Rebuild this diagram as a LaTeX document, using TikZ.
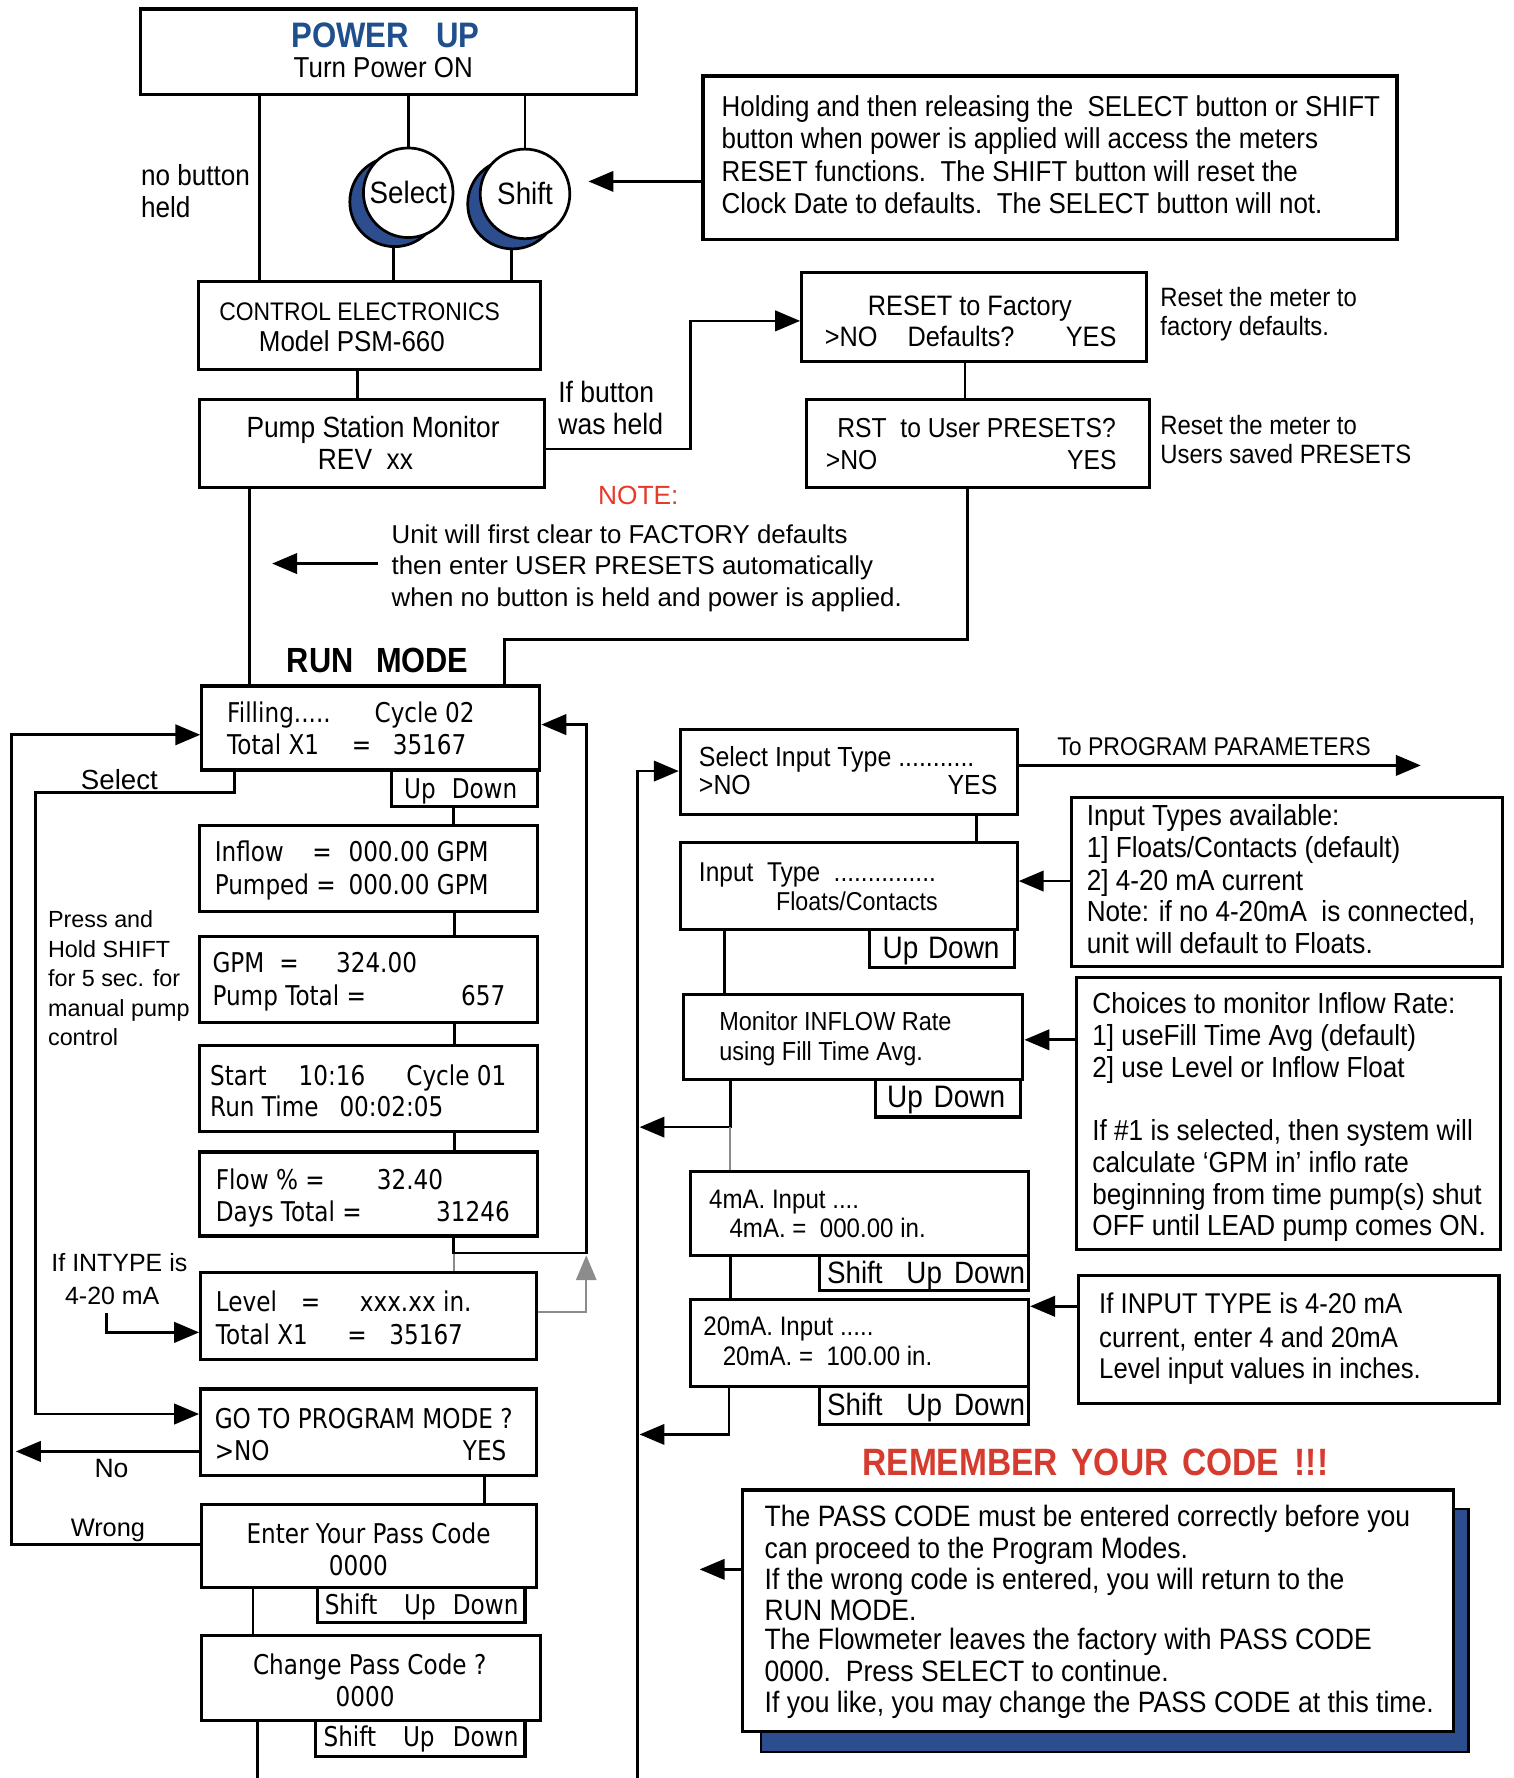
\documentclass[tikz,border=0pt]{standalone}
\usepackage{fontspec}
\usetikzlibrary{arrows.meta,fit}
\setmainfont{Liberation Sans}
\newfontfamily\fN[FakeStretch=0.9]{Liberation Sans}
\newfontfamily\fW[FakeStretch=0.85]{DejaVu Sans}
\newfontfamily\fA{Liberation Sans}
\newfontfamily\fB[FakeStretch=0.88]{Liberation Sans}
\newcommand\fs[1]{\fontsize{#1}{#1}\selectfont}
\definecolor{pblue}{HTML}{1F4F8C}
\definecolor{sblue}{HTML}{2C4E8E}
\definecolor{nred}{HTML}{E63A2C}
\definecolor{rred}{HTML}{D63B2F}
\definecolor{lgray}{HTML}{8C8C8C}
\tikzset{
  boxs/.style={draw, line width=1.4pt, inner sep=0pt, fill=white},
  ln/.style={line width=1.2pt},
  arr/.style={line width=1.2pt, -{Triangle[length=11pt,width=9pt]}},
  gl/.style={line width=0.9pt, draw=lgray},
  garr/.style={line width=0.9pt, draw=lgray, -{Triangle[length=11pt,width=9pt]}},
  tx/.style={inner sep=0pt, anchor=base west},
  txc/.style={inner sep=0pt, anchor=base},
  txr/.style={inner sep=0pt, anchor=base east},
  lcd/.style={font=\fW\fs{12}},
  nar/.style={font=\fN\fs{12.7}},
  btn/.style={circle, draw, line width=1.2pt, minimum size=39.5pt, inner sep=0pt},
}
\begin{document}
\begin{tikzpicture}[x=0.5pt,y=-0.5pt]
\useasboundingbox (0,0) rectangle (1335,1568);

% ---------- top section ----------
\node[boxs, fit={(124,8) (561,83)}] (npower) {};
\node[txc, text=pblue] (tpw) at (340,42) {\fB\bfseries\fs{15.6}POWER\hspace{12pt}UP};
\node[txc] (tton) at (338,68) {\fN\fs{12.7}Turn Power ON};

\node[btn, fill=sblue] (nselsh) at (348,178) {};
\node[btn, fill=white] (nsel) at (360,170) {\fN\fs{13.6}Select};
\node[btn, fill=sblue] (nshfsh) at (452,180) {};
\node[btn, fill=white] (nshf) at (463,171) {\fN\fs{13.6}Shift};

\node[tx] (tnb1) at (124,164) {\fN\fs{12.8}no button};
\node[tx] (tnb2) at (124,192) {\fN\fs{12.8}held};

\node[boxs, fit={(175,248) (477,326)}] (nctrl) {};
\node[tx] (tce1) at (193,283) {\fN\fs{11.2}CONTROL ELECTRONICS};
\node[tx] (tce2) at (228,310) {\fN\fs{12.7}Model PSM-660};

\node[boxs, fit={(176,352) (480,430)}] (npump) {};
\node[tx] (tps1) at (217,386) {\fN\fs{12.9}Pump Station Monitor};
\node[tx] (tps2) at (280,414) {\fN\fs{12.9}REV\ \ xx};

\node[tx] (tib1) at (492,355) {\fN\fs{13}If button};
\node[tx] (tib2) at (492,383) {\fN\fs{13}was held};

\node[boxs, fit={(620,67) (1232,211)}] (nhold) {};
\node[tx, nar] (th1) at (636,103) {Holding and then releasing the\ \ SELECT button or SHIFT};
\node[tx, nar] (th2) at (636,131) {button when power is applied will access the meters};
\node[tx, nar] (th3) at (636,160) {RESET functions.\ \ The SHIFT button will reset the};
\node[tx, nar] (th4) at (636,188) {Clock Date to defaults.\ \ The SELECT button will not.};

\node[boxs, fit={(707,240) (1011,319)}] (nreset) {};
\node[tx] (tr1) at (765,278) {\fN\fs{12.4}RESET to Factory};
\node[tx] (tr2) at (727,306) {\fN\fs{12.4}>NO};
\node[tx] (tr3) at (800,306) {\fN\fs{12.4}Defaults?};
\node[txr] (tr4) at (985,306) {\fN\fs{12.4}YES};

\node[boxs, fit={(711,352) (1014,430)}] (nrst) {};
\node[tx] (ts1) at (738,386) {\fN\fs{12.1}RST\ \ to User PRESETS?};
\node[tx] (ts2) at (728,414) {\fN\fs{12.1}>NO};
\node[txr] (ts3) at (985,414) {\fN\fs{12.1}YES};

\node[tx] (tm1) at (1023,270) {\fN\fs{11.7}Reset the meter to};
\node[tx] (tm2) at (1023,296) {\fN\fs{11.7}factory\ defaults.};
\node[tx] (tm3) at (1023,383) {\fN\fs{11.7}Reset the meter to};
\node[tx] (tm4) at (1023,409) {\fN\fs{11.7}Users saved PRESETS};

\node[tx, text=nred] (tnote) at (527,445) {\fA\fs{11.6}NOTE:};
\node[tx] (tu1) at (345,479) {\fA\fs{11.4}Unit will first clear to FACTORY defaults};
\node[tx] (tu2) at (345,507) {\fA\fs{11.4}then enter USER PRESETS automatically};
\node[tx] (tu3) at (345,535) {\fA\fs{11.4}when no button is held and power is applied.};

\node[txc] (trun) at (333,593) {\fB\bfseries\fs{15.4}RUN\hspace{10pt}MODE};

% ---------- left column ----------
\node[boxs, fit={(178,605) (476,679)}] (nfill) {};
\node[tx, lcd] (tf1) at (200,637) {Filling.....};
\node[tx, lcd] (tf2) at (330,637) {Cycle 02};
\node[tx, lcd] (tf3) at (200,665) {Total X1};
\node[tx, lcd] (tf4) at (310,665) {=};
\node[tx, lcd] (tf5) at (346,665) {35167};
\node[boxs, fit={(345,679) (474,711)}] (nud1) {};
\node[tx, lcd] (tu1a) at (356,704) {Up};
\node[tx, lcd] (tu1b) at (398,704) {Down};

\node[boxs, fit={(176,728) (474,804)}] (ninflow) {};
\node[tx, lcd] (ti1) at (189,760) {Inflow};
\node[tx, lcd] (ti2) at (275,760) {=};
\node[tx, lcd] (ti3) at (307,760) {000.00 GPM};
\node[tx, lcd] (ti4) at (189,789) {Pumped =};
\node[tx, lcd] (ti5) at (307,789) {000.00 GPM};

\node[boxs, fit={(176,826) (474,902)}] (ngpm) {};
\node[tx, lcd] (tg1) at (187,858) {GPM};
\node[tx, lcd] (tg2) at (246,858) {=};
\node[tx, lcd] (tg3) at (296,858) {324.00};
\node[tx, lcd] (tg4) at (187,887) {Pump Total =};
\node[txr, lcd] (tg5) at (446,887) {657};

\node[boxs, fit={(176,922) (474,998)}] (nstart) {};
\node[tx, lcd] (tst1) at (185,957) {Start};
\node[tx, lcd] (tst2) at (263,957) {10:16};
\node[tx, lcd] (tst3) at (358,957) {Cycle 01};
\node[tx, lcd] (tst4) at (185,985) {Run Time};
\node[tx, lcd] (tst5) at (299,985) {00:02:05};

\node[boxs, fit={(176,1016) (474,1090)}] (nflow) {};
\node[tx, lcd] (tfl1) at (190,1049) {Flow \% =};
\node[tx, lcd] (tfl2) at (332,1049) {32.40};
\node[tx, lcd] (tfl3) at (190,1077) {Days Total =};
\node[txr, lcd] (tfl4) at (450,1077) {31246};

\node[boxs, fit={(177,1122) (473,1199)}] (nlevel) {};
\node[tx, lcd] (tl1) at (190,1157) {Level};
\node[tx, lcd] (tl2) at (265,1157) {=};
\node[tx, lcd] (tl3) at (317,1157) {xxx.xx in.};
\node[tx, lcd] (tl4) at (190,1186) {Total X1};
\node[tx, lcd] (tl5) at (306,1186) {=};
\node[tx, lcd] (tl6) at (343,1186) {35167};

\node[boxs, fit={(177,1225) (473,1301)}] (ngoto) {};
\node[tx, lcd] (tgo1) at (189,1260) {GO TO PROGRAM MODE ?};
\node[tx, lcd] (tgo2) at (189,1288) {>NO};
\node[txr, lcd] (tgo3) at (447,1288) {YES};

\node[boxs, fit={(178,1327) (473,1400)}] (nenter) {};
\node[txc, lcd] (te1) at (325,1361) {Enter Your Pass Code};
\node[txc, lcd] (te2) at (316,1389) {0000};
\node[boxs, fit={(280,1400) (463,1431)}] (nud2) {};
\node[tx, lcd] (tu2a) at (286,1424) {Shift};
\node[tx, lcd] (tu2b) at (356,1424) {Up};
\node[tx, lcd] (tu2c) at (399,1424) {Down};

\node[boxs, fit={(178,1442) (477,1517)}] (nchange) {};
\node[txc, lcd] (tc1) at (326,1477) {Change Pass Code ?};
\node[txc, lcd] (tc2) at (322,1505) {0000};
\node[boxs, fit={(278,1517) (463,1549)}] (nud3) {};
\node[tx, lcd] (tu3a) at (285,1540) {Shift};
\node[tx, lcd] (tu3b) at (355,1540) {Up};
\node[tx, lcd] (tu3c) at (399,1540) {Down};

\node[tx] (tpr1) at (42,818) {\fA\fs{10.3}Press and};
\node[tx] (tpr2) at (42,844) {\fA\fs{10.3}Hold SHIFT};
\node[tx] (tpr3) at (42,870) {\fA\fs{10.3}for 5 sec. for};
\node[tx] (tpr4) at (42,896) {\fA\fs{10.3}manual pump};
\node[tx] (tpr5) at (42,922) {\fA\fs{10.3}control};
\node[tx] (tsel) at (71,696) {\fA\fs{12.2}Select};
\node[tx] (tin1) at (45,1121) {\fA\fs{11}If INTYPE is};
\node[tx] (tin2) at (57,1150) {\fA\fs{11}4-20 mA};
\node[tx] (tno) at (83,1303) {\fA\fs{11.7}No};
\node[tx] (twr) at (62,1355) {\fA\fs{11.2}Wrong};

% ---------- right column ----------
\node[boxs, fit={(600,643) (897,718)}] (nsit) {};
\node[tx] (tsi1) at (616,676) {\fN\fs{12.2}Select Input Type ...........};
\node[tx] (tsi2) at (616,701) {\fN\fs{12.2}>NO};
\node[txr] (tsi3) at (880,701) {\fN\fs{12.2}YES};
\node[tx] (tpp) at (932,666) {\fN\fs{11.3}To PROGRAM PARAMETERS};

\node[boxs, fit={(600,743) (897,820)}] (nitype) {};
\node[tx] (tit1) at (616,777) {\fN\fs{12}Input\ \ Type\ \ ...............};
\node[tx] (tit2) at (684,803) {\fN\fs{11.4}Floats/Contacts};
\node[boxs, fit={(767,820) (895,853)}] (nud4) {};
\node[tx] (tu4a) at (778,845) {\fN\fs{13.7}Up};
\node[tx] (tu4b) at (818,845) {\fN\fs{13.7}Down};

\node[boxs, fit={(603,877) (902,952)}] (nmon) {};
\node[tx] (tmo1) at (634,909) {\fN\fs{11.5}Monitor INFLOW Rate};
\node[tx] (tmo2) at (634,935) {\fN\fs{11.5}using Fill Time Avg.};
\node[boxs, fit={(772,952) (900,985)}] (nud5) {};
\node[tx] (tu5a) at (782,977) {\fN\fs{13.7}Up};
\node[tx] (tu5b) at (823,977) {\fN\fs{13.7}Down};

\node[boxs, fit={(609,1033) (907,1107)}] (nma4) {};
\node[tx] (ta41) at (625,1066) {\fN\fs{11.8}4mA. Input ....};
\node[tx] (ta42) at (643,1091) {\fN\fs{11.8}4mA. =\ \ 000.00 in.};
\node[boxs, fit={(723,1107) (907,1138)}] (nud6) {};
\node[tx] (tu6a) at (729,1132) {\fN\fs{13.6}Shift};
\node[tx] (tu6b) at (799,1132) {\fN\fs{13.6}Up};
\node[tx] (tu6c) at (841,1132) {\fN\fs{13.6}Down};

\node[boxs, fit={(609,1146) (907,1223)}] (nma20) {};
\node[tx] (ta21) at (620,1178) {\fN\fs{11.8}20mA. Input .....};
\node[tx] (ta22) at (637,1204) {\fN\fs{11.8}20mA. =\ \ 100.00 in.};
\node[boxs, fit={(723,1223) (907,1256)}] (nud7) {};
\node[tx] (tu7a) at (729,1248) {\fN\fs{13.6}Shift};
\node[tx] (tu7b) at (799,1248) {\fN\fs{13.6}Up};
\node[tx] (tu7c) at (841,1248) {\fN\fs{13.6}Down};

\node[boxs, fit={(945,703) (1325,852)}] (navail) {};
\node[tx] (tav1) at (958,728) {\fN\fs{12.8}Input Types available:};
\node[tx] (tav2) at (958,756) {\fN\fs{12.8}1] Floats/Contacts (default)};
\node[tx] (tav3) at (958,785) {\fN\fs{12.8}2] 4-20 mA current};
\node[tx] (tav4) at (958,813) {\fN\fs{12.8}Note: if no 4-20mA\ \ is connected,};
\node[tx] (tav5) at (958,841) {\fN\fs{12.8}unit will default to Floats.};

\node[boxs, fit={(949,862) (1323,1102)}] (nchoice) {};
\node[tx] (tch1) at (963,894) {\fN\fs{12.8}Choices to monitor Inflow Rate:};
\node[tx] (tch2) at (963,922) {\fN\fs{12.8}1] useFill Time Avg (default)};
\node[tx] (tch3) at (963,950) {\fN\fs{12.8}2] use Level or Inflow Float};
\node[tx] (tch4) at (963,1006) {\fN\fs{12.8}If \#1 is selected, then system will};
\node[tx] (tch5) at (963,1034) {\fN\fs{12.8}calculate ‘GPM in’ inflo rate};
\node[tx] (tch6) at (963,1062) {\fN\fs{12.8}beginning from time pump(s) shut};
\node[tx] (tch7) at (963,1090) {\fN\fs{12.8}OFF until LEAD pump comes ON.};

\node[boxs, fit={(951,1125) (1322,1238)}] (nifin) {};
\node[tx] (tif1) at (969,1158) {\fN\fs{12.6}If INPUT TYPE is 4-20 mA};
\node[tx] (tif2) at (969,1188) {\fN\fs{12.6}current, enter 4 and 20mA};
\node[tx] (tif3) at (969,1216) {\fN\fs{12.6}Level input values in inches.};

\node[txc, text=rred] (trem) at (966,1301) {\fB\bfseries\fs{16.8}REMEMBER\hspace{6pt}YOUR\hspace{6pt}CODE\hspace{7pt}!!!};

\node[draw=black, line width=1pt, fill=sblue, inner sep=0pt, fit={(671,1331) (1295,1545)}] (npsh) {};
\node[boxs, fit={(655,1314) (1282,1527)}] (npass) {};
\node[tx] (tpa1) at (674,1346) {\fN\fs{13}The PASS CODE must be entered correctly before you};
\node[tx] (tpa2) at (674,1374) {\fN\fs{13}can proceed to the Program Modes.};
\node[tx] (tpa3) at (674,1402) {\fN\fs{13}If the wrong code is entered, you will return to the};
\node[tx] (tpa4) at (674,1429) {\fN\fs{13}RUN MODE.};
\node[tx] (tpa5) at (674,1455) {\fN\fs{13}The Flowmeter leaves the factory with PASS CODE};
\node[tx] (tpa6) at (674,1483) {\fN\fs{13}0000.\ \ Press SELECT to continue.};
\node[tx] (tpa7) at (674,1510) {\fN\fs{13}If you like, you may change the PASS CODE at this time.};

% ---------- free ends ----------
\coordinate (cA) at (519,160);
\coordinate (cB) at (333,497);
\coordinate (cC) at (240,497);
\coordinate (cD) at (94,1158);
\coordinate (cE) at (14,1280);
\coordinate (cF) at (227,1568);
\coordinate (cG) at (562,1568);
\coordinate (cH) at (1253,675);
\coordinate (cI) at (617,1384);
\coordinate (cJ) at (564,994);
\coordinate (cK) at (564,1265);

% ---------- connectors ----------
\draw[ln] (229,0 |- npower.south) -- (229,0 |- nctrl.north);
\draw[ln] (npower.south -| nsel.north) -- (nsel.north);
\draw[ln] (npower.south -| nshf.north) -- (nshf.north);
\draw[ln] (347,0 |- nselsh.south) -- (347,0 |- nctrl.north);
\draw[ln] (451,0 |- nshfsh.south) -- (451,0 |- nctrl.north);
\draw[arr] (nhold.west |- 0,160) -- (cA);
\draw[ln] (315,0 |- nctrl.south) -- (315,0 |- npump.north);
\draw[arr] (npump.east |- 0,396) -| (609,283) -- (nreset.west |- 0,283);
\draw[ln] (851,0 |- nreset.south) -- (851,0 |- nrst.north);
\draw[ln] (853,0 |- nrst.south) |- (445,564) -- (445,0 |- nfill.north);
\draw[ln] (220,0 |- npump.south) -- (220,0 |- nfill.north);
\draw[arr] (cB) -- (cC);

\draw[ln] (400,0 |- nud1.south) -- (400,0 |- ninflow.north);
\draw[ln] (401,0 |- ninflow.south) -- (401,0 |- ngpm.north);
\draw[ln] (401,0 |- ngpm.south) -- (401,0 |- nstart.north);
\draw[ln] (401,0 |- nstart.south) -- (401,0 |- nflow.north);
\draw[arr] (400,0 |- nflow.south) |- (517,1105) |- (nfill.east |- 0,639);
\draw[gl] (400,1106) -- (400,0 |- nlevel.north);
\draw[garr] (nlevel.east |- 0,1157) -| (517,1107);
\draw[arr] (cD) |- (nlevel.west |- 0,1175);
\draw[arr] (207,0 |- nfill.south) |- (31,699) |- (ngoto.west |- 0,1247);
\draw[arr] (ngoto.west |- 0,1280) -- (cE);
\draw[arr] (nenter.west |- 0,1362) -| (10,648) -- (nfill.west |- 0,648);
\draw[ln] (427,0 |- ngoto.south) -- (427,0 |- nenter.north);
\draw[ln] (223,0 |- nenter.south) -- (223,0 |- nchange.north);
\draw[ln] (227,0 |- nchange.south) -- (cF);

\draw[arr] (cG) -- (562,680) -- (nsit.west |- 0,680);
\draw[arr] (nsit.east |- 0,675) -- (cH);
\draw[ln] (861,0 |- nsit.south) -- (861,0 |- nitype.north);
\draw[ln] (639,0 |- nitype.south) -- (639,0 |- nmon.north);
\draw[arr] (navail.west |- 0,777) -- (nitype.east |- 0,777);
\draw[arr] (nchoice.west |- 0,917) -- (nmon.east |- 0,917);
\draw[arr] (644,0 |- nmon.south) |- (cJ);
\draw[gl] (644,994) -- (644,0 |- nma4.north);
\draw[ln] (644,0 |- nma4.south) -- (644,0 |- nma20.north);
\draw[arr] (643,0 |- nma20.south) |- (cK);
\draw[arr] (nifin.west |- 0,1152) -- (nma20.east |- 0,1152);
\draw[arr] (npass.west |- 0,1384) -- (cI);
\end{tikzpicture}
\end{document}
